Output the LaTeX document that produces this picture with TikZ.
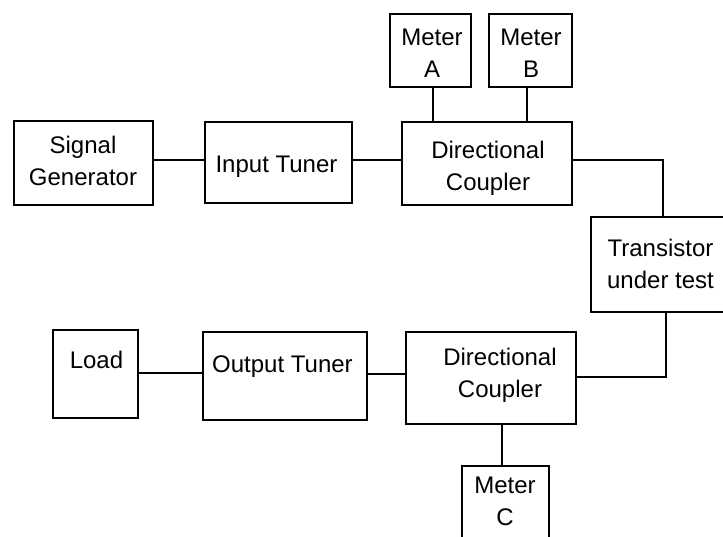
\documentclass[tikz,border=0pt]{standalone}
\usepackage{fontspec}
\setmainfont{Liberation Sans}
\begin{document}
\begin{tikzpicture}[x=1pt,y=-1pt,
  box/.style={draw, line width=1.8pt, rectangle, inner sep=0pt},
  lbl/.style={font=\fontsize{24}{31.5}\selectfont, align=center, anchor=base, inner sep=0pt},
  wire/.style={line width=1.8pt}]
\fill[white] (0,0) rectangle (723,536);
\useasboundingbox (0,0) rectangle (723,536);
% boxes
\node[box, minimum width=139pt, minimum height=84pt] (sg) at (83.5,163) {};
\node[box, minimum width=147pt, minimum height=81pt] (it) at (278.5,162.5) {};
\node[box, minimum width=170pt, minimum height=83pt] (dc1) at (487,163.5) {};
\node[box, minimum width=81pt, minimum height=73pt] (ma) at (430.5,50.5) {};
\node[box, minimum width=83pt, minimum height=73pt] (mb) at (530.5,50.5) {};
\node[box, minimum width=139pt, minimum height=95pt] (tr) at (660.5,264.5) {};
\node[box, minimum width=85pt, minimum height=88pt] (ld) at (95.5,374) {};
\node[box, minimum width=164pt, minimum height=88pt] (ot) at (285,376) {};
\node[box, minimum width=170pt, minimum height=92pt] (dc2) at (491,378) {};
\node[box, minimum width=87pt, minimum height=94pt] (mc) at (505.5,513) {};
% texts (base anchor = baseline of the last line)
\node[lbl] (tsg) at (83,185) {Signal\\Generator};
\node[lbl] (tit) at (276.5,172) {Input Tuner};
\node[lbl] (tdc1) at (488,190) {Directional\\Coupler};
\node[lbl] (tma) at (432,77) {Meter\\A};
\node[lbl] (tmb) at (531,77) {Meter\\B};
\node[lbl] (ttr) at (660.5,288) {Transistor\\under test};
\node[lbl] (tld) at (96.5,368) {Load};
\node[lbl, anchor=base west] (tot) at (212,372) {Output Tuner};
\node[lbl] (tdc2) at (500,397) {Directional\\Coupler};
\node[lbl] (tmc) at (505,525) {Meter\\C};
% connectors
\draw[wire] ([yshift=3pt]sg.east) -- ([yshift=2.5pt]it.west);
\draw[wire] ([yshift=2.5pt]it.east) -- ([yshift=3.5pt]dc1.west);
\draw[wire] ([xshift=2.5pt]ma.south) -- ([xshift=-54pt]dc1.north);
\draw[wire] ([xshift=-3.5pt]mb.south) -- ([xshift=40pt]dc1.north);
\draw[wire] ([yshift=3.5pt]dc1.east) -| ([xshift=2.5pt]tr.north);
\draw[wire] ([xshift=5.5pt]tr.south) |- ([yshift=1pt]dc2.east);
\draw[wire] ([yshift=4pt]dc2.west) -- ([yshift=2pt]ot.east);
\draw[wire] ([yshift=3pt]ot.west) -- ([yshift=1pt]ld.east);
\draw[wire] ([xshift=11pt]dc2.south) -- ([xshift=-3.5pt]mc.north);
\end{tikzpicture}
\end{document}
